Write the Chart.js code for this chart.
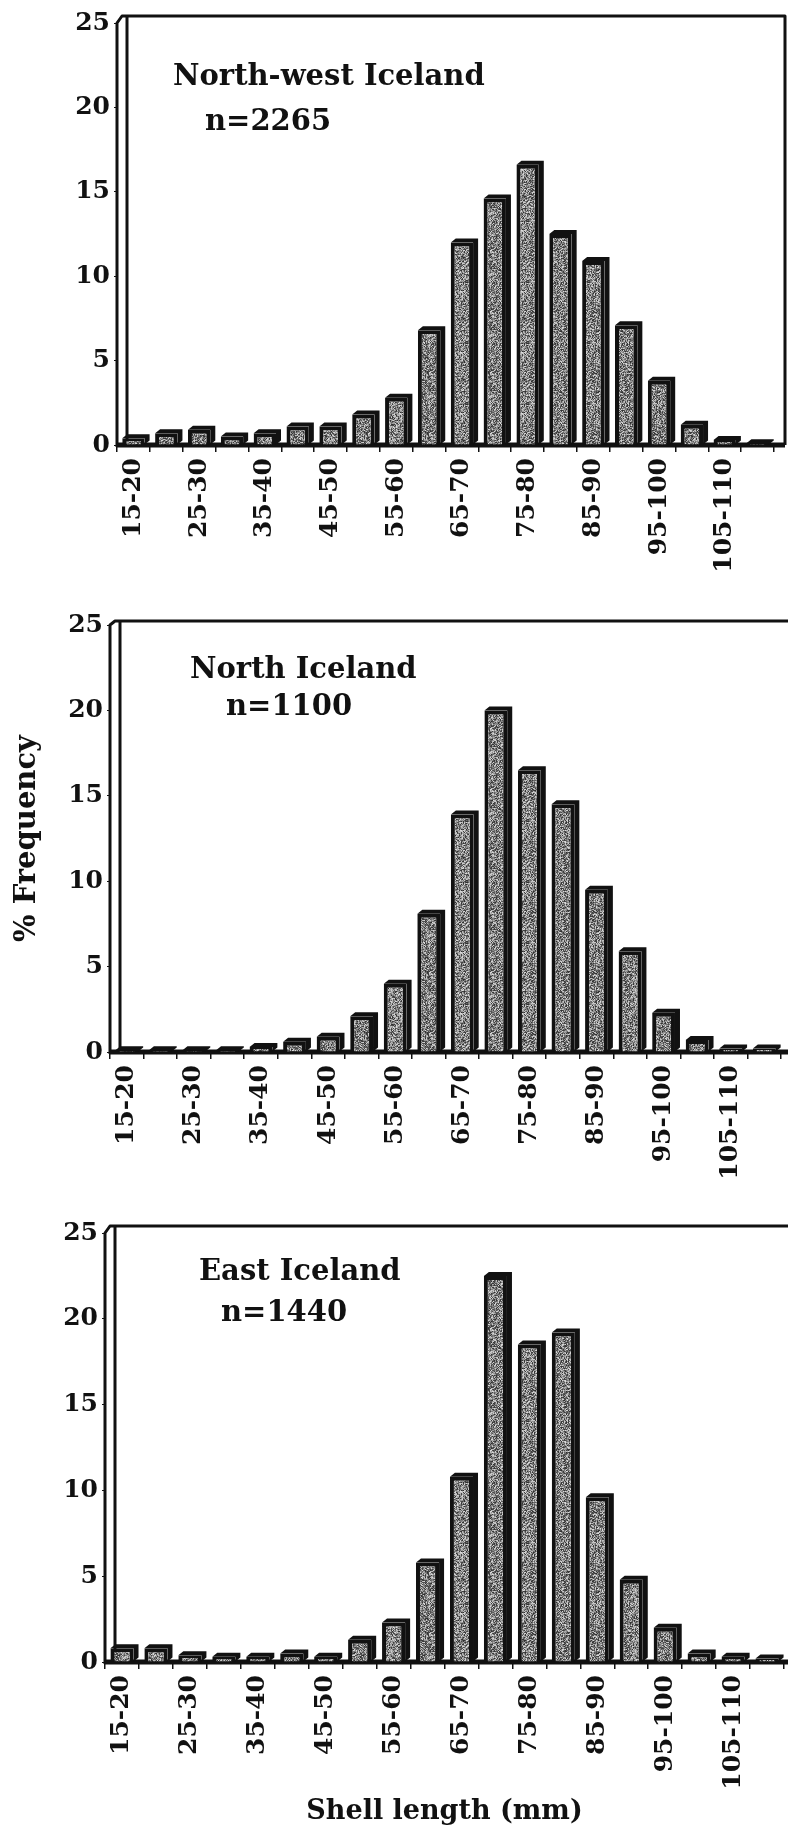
<!DOCTYPE html>
<html lang="en">
<head>
    <meta charset="UTF-8">
    <title>Shell length frequency - Iceland</title>
    <script src="https://cdn.jsdelivr.net/npm/chart.js"></script>
    <style>
        body { margin: 0; padding: 0; background: #fff; }
        .page { position: relative; width: 788px; height: 1830px; overflow: hidden; }
        .page canvas { position: absolute; left: 0; }
    </style>
</head>
<body>
<div class="page">
    <canvas id="chartNW" width="788" height="600" style="top:0px"></canvas>
    <canvas id="chartN" width="788" height="600" style="top:600px"></canvas>
    <canvas id="chartE" width="788" height="630" style="top:1200px"></canvas>
</div>

<script>
    // size classes (mm) and % frequency per region
    const sizeClasses = ['15-20', '20-25', '25-30', '30-35', '35-40', '40-45', '45-50', '50-55', '55-60', '60-65',
                         '65-70', '70-75', '75-80', '80-85', '85-90', '90-95', '95-100', '100-105', '105-110', '110-115'];
    const northWest = [0.4, 0.7, 0.9, 0.5, 0.7, 1.1, 1.1, 1.8, 2.8, 6.8, 12.0, 14.6, 16.6, 12.5, 10.9, 7.1, 3.8, 1.2, 0.3, 0.1];
    const north     = [0.1, 0.1, 0.1, 0.1, 0.3, 0.6, 0.9, 2.1, 4.0, 8.1, 13.9, 20.0, 16.5, 14.5, 9.5, 5.9, 2.3, 0.7, 0.2, 0.2];
    const east      = [0.8, 0.8, 0.4, 0.3, 0.3, 0.5, 0.3, 1.3, 2.3, 5.8, 10.8, 22.5, 18.5, 19.2, 9.6, 4.8, 2.0, 0.5, 0.3, 0.2];
    const regionNames = ['North-west Iceland', 'North Iceland', 'East Iceland'];
    const sampleSizes = ['n=2265', 'n=1100', 'n=1440'];
    const yMin = 0, yMax = 25, yStep = 5;

    const FONT = '"DejaVu Serif", "Liberation Serif", serif';
    const INK = '#111';

    // grey speckle like the printed bars (deterministic hash, no randomness)
    function speckle(ctx) {
        const c = document.createElement('canvas');
        c.width = 61; c.height = 61;
        const g = c.getContext('2d');
        const img = g.createImageData(61, 61);
        for (let y = 0; y < 61; y++) {
            for (let x = 0; x < 61; x++) {
                const h = Math.abs(Math.sin(x * 12.9898 + y * 78.233) * 43758.5453) % 1;
                const v = Math.round(45 + h * 175);
                const i = (y * 61 + x) * 4;
                img.data[i] = img.data[i + 1] = img.data[i + 2] = v;
                img.data[i + 3] = 255;
            }
        }
        g.putImageData(img, 0, 0);
        return ctx.createPattern(c, 'repeat');
    }

    // box frame, floor and the 3d faces of the bars
    const framePlugin = {
        id: 'frame3d',
        beforeDatasetsDraw(chart, args, opts) {
            const { ctx, chartArea: a } = chart;
            const right = a.right + 11;
            ctx.save();
            ctx.strokeStyle = INK;
            ctx.lineWidth = 3;
            ctx.lineJoin = 'round';
            // outer wall line
            ctx.beginPath();
            ctx.moveTo(a.left, a.bottom + 2);
            ctx.lineTo(a.left, a.top);
            ctx.lineTo(a.left + 5, a.top - opts.lift);
            ctx.lineTo(right, a.top - opts.lift);
            ctx.lineTo(right, a.bottom);
            ctx.stroke();
            // inner wall line
            ctx.beginPath();
            ctx.moveTo(a.left + 10, a.top - opts.lift);
            ctx.lineTo(a.left + 10, a.bottom);
            ctx.stroke();
            // floor
            ctx.lineWidth = 5;
            ctx.beginPath();
            ctx.moveTo(a.left, a.bottom);
            ctx.lineTo(right, a.bottom);
            ctx.stroke();
            ctx.restore();
        },
        afterDatasetsDraw(chart) {
            const { ctx } = chart;
            const dx = 5, dy = 4;
            ctx.save();
            ctx.fillStyle = INK;
            chart.getDatasetMeta(0).data.forEach(bar => {
                const { x, y, base, width } = bar.getProps(['x', 'y', 'base', 'width'], true);
                const l = x - width / 2, r = x + width / 2;
                ctx.beginPath();
                ctx.moveTo(l, y);
                ctx.lineTo(l + dx, y - dy);
                ctx.lineTo(r + dx, y - dy);
                ctx.lineTo(r + dx, base - dy);
                ctx.lineTo(r, base);
                ctx.lineTo(r, y);
                ctx.closePath();
                ctx.fill();
            });
            ctx.restore();
        },
        afterDraw(chart, args, opts) {
            const { ctx } = chart;
            ctx.save();
            ctx.fillStyle = INK;
            ctx.font = 'bold 29px ' + FONT;
            ctx.textBaseline = 'middle';
            ctx.textAlign = 'left';
            ctx.fillText(opts.name, opts.nameX, opts.nameY);
            ctx.fillText(opts.n, opts.nX, opts.nY);
            ctx.restore();
        }
    };

    function makePanel(id, values, idx, lay) {
        const el = document.getElementById(id);
        const ctx = el.getContext('2d');
        return new Chart(ctx, {
            type: 'bar',
            data: {
                labels: sizeClasses,
                datasets: [{
                    data: values,
                    backgroundColor: speckle(ctx),
                    borderColor: INK,
                    borderWidth: 4,
                    categoryPercentage: 1,
                    barPercentage: 0.68
                }]
            },
            options: {
                responsive: false,
                animation: false,
                layout: { padding: { top: lay.top, left: 0, right: lay.right, bottom: lay.bottom } },
                plugins: {
                    legend: { display: false },
                    tooltip: { enabled: false },
                    frame3d: {
                        lift: lay.lift,
                        name: regionNames[idx], nameX: lay.nameX, nameY: lay.nameY,
                        n: sampleSizes[idx], nX: lay.nX, nY: lay.nY
                    }
                },
                scales: {
                    x: {
                        afterFit: s => { s.height = lay.xHeight; s.paddingLeft = 0; s.paddingRight = 0; },
                        border: { display: false },
                        grid: { offset: true, drawOnChartArea: false, drawTicks: true, tickLength: 7, color: INK, lineWidth: 1.5 },
                        ticks: {
                            autoSkip: false, minRotation: 90, maxRotation: 90, padding: 6,
                            color: INK, font: { family: FONT, size: 25, weight: 'bold' },
                            callback: (v, i) => (i % 2 === 0 ? sizeClasses[i] : '')
                        },
                        title: {
                            display: !!lay.xTitle, text: lay.xTitle || '', color: INK,
                            font: { family: FONT, size: 27, weight: 'bold' }, padding: { top: 0, bottom: 2 }
                        }
                    },
                    y: {
                        min: yMin, max: yMax,
                        afterFit: s => { s.width = lay.yWidth; },
                        border: { display: false },
                        grid: { drawOnChartArea: false, drawTicks: true, tickLength: 3, color: INK },
                        ticks: {
                            stepSize: yStep, padding: 4, color: INK,
                            font: { family: FONT, size: 25, weight: 'bold' }
                        },
                        title: {
                            display: !!lay.yTitle, text: lay.yTitle || '', color: INK,
                            font: { family: FONT, size: 29, weight: 'bold' }, padding: { top: 10, bottom: 0 }
                        }
                    }
                }
            },
            plugins: [framePlugin]
        });
    }

    makePanel('chartNW', northWest, 0, {
        top: 23, right: 14, bottom: 5, xHeight: 150, yWidth: 117, lift: 7,
        nameX: 173, nameY: 77, nX: 205, nY: 122
    });
    makePanel('chartN', north, 1, {
        top: 25, right: 7, bottom: 5, xHeight: 143, yWidth: 110, lift: 4,
        nameX: 190, nameY: 70, nX: 226, nY: 107, yTitle: '% Frequency'
    });
    makePanel('chartE', east, 2, {
        top: 33, right: 4, bottom: 0, xHeight: 168, yWidth: 105, lift: 7,
        nameX: 199, nameY: 72, nX: 221, nY: 113, xTitle: 'Shell length (mm)'
    });
</script>
</body>
</html>
